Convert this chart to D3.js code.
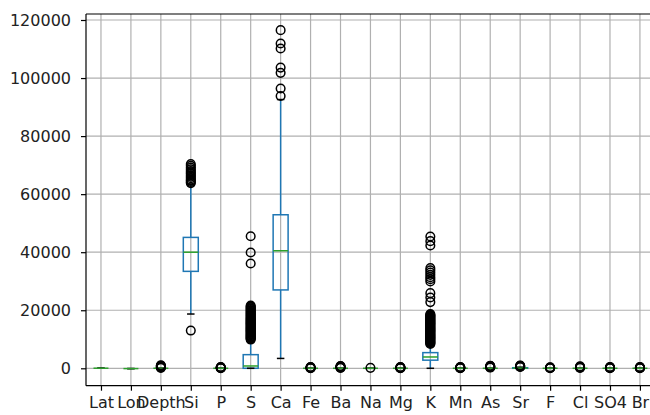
<!DOCTYPE html>
<html>
<head>
<meta charset="utf-8">
<script src="https://cdn.jsdelivr.net/npm/d3@7"></script>
<style>
  html, body { margin: 0; padding: 0; background: #fff; }
  svg { display: block; }
  text { font-family: "DejaVu Sans", sans-serif; }
</style>
</head>
<body>
<svg id="chart" width="650" height="415"></svg>
<script>
// Column names (one box per column)
const columns = ["Lat", "Lon", "Depth", "Si", "P", "S", "Ca", "Fe", "Ba", "Na",
                 "Mg", "K", "Mn", "As", "Sr", "F", "Cl", "SO4", "Br"];

// Box statistics per column
const q1        = [30, -100, 0, 33400, 0, 0, 27000, 0, 0, 0, 0, 2800, 0, 0, 0, 0, 0, 0, 0];
const medians   = [30, -100, 0, 40000, 0, 800, 40500, 0, 0, 0, 0, 3900, 0, 0, 50, 0, 0, 0, 0];
const q3        = [30, -100, 0, 45100, 0, 4700, 52900, 0, 0, 0, 0, 5400, 0, 0, 200, 0, 0, 0, 0];
const whiskLow  = [30, -100, 0, 18700, 0, 0, 3400, 0, 0, 0, 0, 0, 0, 0, 0, 0, 0, 0, 0];
const whiskHigh = [30, -100, 0, 63300, 0, 9500, 92600, 0, 0, 0, 0, 8000, 0, 0, 400, 0, 0, 0, 0];

// Outliers per column
const fliers = [
  [],
  [],
  [150, 300, 450, 600, 750, 900, 1050],
  [13000, 63800, 64200, 64600, 65000, 65500, 66000, 66500, 67000, 67500, 68000, 68600,
   69200, 69800, 70400],
  [50, 120, 200, 280, 360, 440],
  [9900, 10150, 10400, 10650, 10900, 11150, 11400, 11650, 11900, 12150, 12400, 12650,
   12900, 13150, 13400, 13650, 13900, 14150, 14400, 14650, 14900, 15150, 15400, 15650,
   15900, 16150, 16400, 16650, 16900, 17150, 17400, 17700, 18000, 18300, 18600, 18900,
   19200, 19500, 19800, 20100, 20400, 20700, 21000, 21300, 21600,
   36100, 39900, 45500],
  [93800, 96400, 101800, 103600, 110200, 111900, 116500],
  [50, 120, 200, 280, 360, 450],
  [150, 250, 350, 450, 550, 650, 750],
  [150],
  [50, 120, 200, 280, 360, 450],
  [8400, 8650, 8900, 9150, 9400, 9650, 9900, 10150, 10400, 10650, 10900, 11150, 11400,
   11650, 11900, 12150, 12400, 12650, 12900, 13150, 13400, 13650, 13900, 14150, 14400,
   14650, 14900, 15150, 15400, 15650, 15900, 16150, 16400, 16650, 16900, 17150, 17400,
   17650, 17900, 18150, 18400, 18700,
   22800, 24400, 25900, 29900, 30700, 31400, 32200, 33000, 33800, 34500, 42300, 43800, 45400],
  [50, 120, 200, 280, 360, 450],
  [250, 350, 450, 550, 650, 750, 850],
  [450, 550, 650, 750, 850, 950],
  [50, 120, 200, 280, 360],
  [150, 250, 350, 450, 550, 650],
  [50, 120, 200, 280, 360, 450],
  [50, 120, 200, 280, 360, 450]
];

const yTicks = [0, 20000, 40000, 60000, 80000, 100000, 120000];

const svg = d3.select("#chart");
const plotLeft = 86, plotTop = 14, plotBottom = 385.7, plotRight = 654.9;

const x = d3.scalePoint().domain(columns).range([plotLeft, plotRight]).padding(0.5);
const y = d3.scaleLinear().domain([-5995, 122068]).range([plotBottom, plotTop]);
const boxW = x.step() * 0.5;
const capW = boxW * 0.5;

// Grid
const grid = svg.append("g").attr("stroke", "#b0b0b0").attr("stroke-width", 1.2);
grid.selectAll("line.gy").data(yTicks).join("line")
  .attr("x1", plotLeft).attr("x2", 650)
  .attr("y1", d => y(d)).attr("y2", d => y(d));
grid.selectAll("line.gx").data(columns).join("line")
  .attr("x1", d => x(d)).attr("x2", d => x(d))
  .attr("y1", plotTop).attr("y2", plotBottom);

const stats = columns.map((c, i) => ({
  c, q1: q1[i], med: medians[i], q3: q3[i], lo: whiskLow[i], hi: whiskHigh[i], fl: fliers[i]
}));

const boxes = svg.append("g");
// Whiskers
boxes.selectAll("line.wl").data(stats).join("line").attr("class", "wl")
  .attr("x1", d => x(d.c)).attr("x2", d => x(d.c))
  .attr("y1", d => y(d.q1)).attr("y2", d => y(d.lo))
  .attr("stroke", "#1f77b4").attr("stroke-width", 1.5);
boxes.selectAll("line.wh").data(stats).join("line").attr("class", "wh")
  .attr("x1", d => x(d.c)).attr("x2", d => x(d.c))
  .attr("y1", d => y(d.q3)).attr("y2", d => y(d.hi))
  .attr("stroke", "#1f77b4").attr("stroke-width", 1.5);
// Boxes
boxes.selectAll("rect").data(stats).join("rect")
  .attr("x", d => x(d.c) - boxW / 2).attr("width", boxW)
  .attr("y", d => y(d.q3)).attr("height", d => Math.max(0, y(d.q1) - y(d.q3)))
  .attr("fill", "none").attr("stroke", "#1f77b4").attr("stroke-width", 1.5);
// Caps
boxes.selectAll("line.cl").data(stats).join("line").attr("class", "cl")
  .attr("x1", d => x(d.c) - capW / 2).attr("x2", d => x(d.c) + capW / 2)
  .attr("y1", d => y(d.lo)).attr("y2", d => y(d.lo))
  .attr("stroke", "#000").attr("stroke-width", 1.5);
boxes.selectAll("line.ch").data(stats).join("line").attr("class", "ch")
  .attr("x1", d => x(d.c) - capW / 2).attr("x2", d => x(d.c) + capW / 2)
  .attr("y1", d => y(d.hi)).attr("y2", d => y(d.hi))
  .attr("stroke", "#000").attr("stroke-width", 1.5);
// Medians
boxes.selectAll("line.md").data(stats).join("line").attr("class", "md")
  .attr("x1", d => x(d.c) - boxW / 2).attr("x2", d => x(d.c) + boxW / 2)
  .attr("y1", d => y(d.med)).attr("y2", d => y(d.med))
  .attr("stroke", "#2ca02c").attr("stroke-width", 1.5);
// Outliers
const pts = stats.flatMap(d => d.fl.map(v => ({ c: d.c, v })));
svg.append("g").selectAll("circle").data(pts).join("circle")
  .attr("cx", d => x(d.c)).attr("cy", d => y(d.v)).attr("r", 4.3)
  .attr("fill", "none").attr("stroke", "#000").attr("stroke-width", 1.5);

// Axes
const yAxis = svg.append("g").attr("transform", `translate(${plotLeft},0)`)
  .call(d3.axisLeft(y).tickValues(yTicks).tickFormat(d3.format("d")).tickSize(5).tickPadding(10));
const xAxis = svg.append("g").attr("transform", `translate(0,${plotBottom})`)
  .call(d3.axisBottom(x).tickSize(5).tickPadding(6));
[yAxis, xAxis].forEach(g => {
  g.select(".domain").remove();
  g.selectAll(".tick line").attr("stroke", "#000").attr("stroke-width", 1.2);
  g.selectAll(".tick text").attr("fill", "#222").style("font-size", "16px")
    .style("font-family", "'DejaVu Sans', sans-serif");
});

// Spines (left, top, bottom; right edge lies beyond the canvas)
const sp = svg.append("g").attr("stroke", "#000").attr("stroke-width", 1.2);
sp.append("line").attr("x1", plotLeft).attr("x2", plotLeft).attr("y1", plotTop).attr("y2", plotBottom);
sp.append("line").attr("x1", plotLeft).attr("x2", 650).attr("y1", plotTop).attr("y2", plotTop);
sp.append("line").attr("x1", plotLeft).attr("x2", 650).attr("y1", plotBottom).attr("y2", plotBottom);
</script>
</body>
</html>
